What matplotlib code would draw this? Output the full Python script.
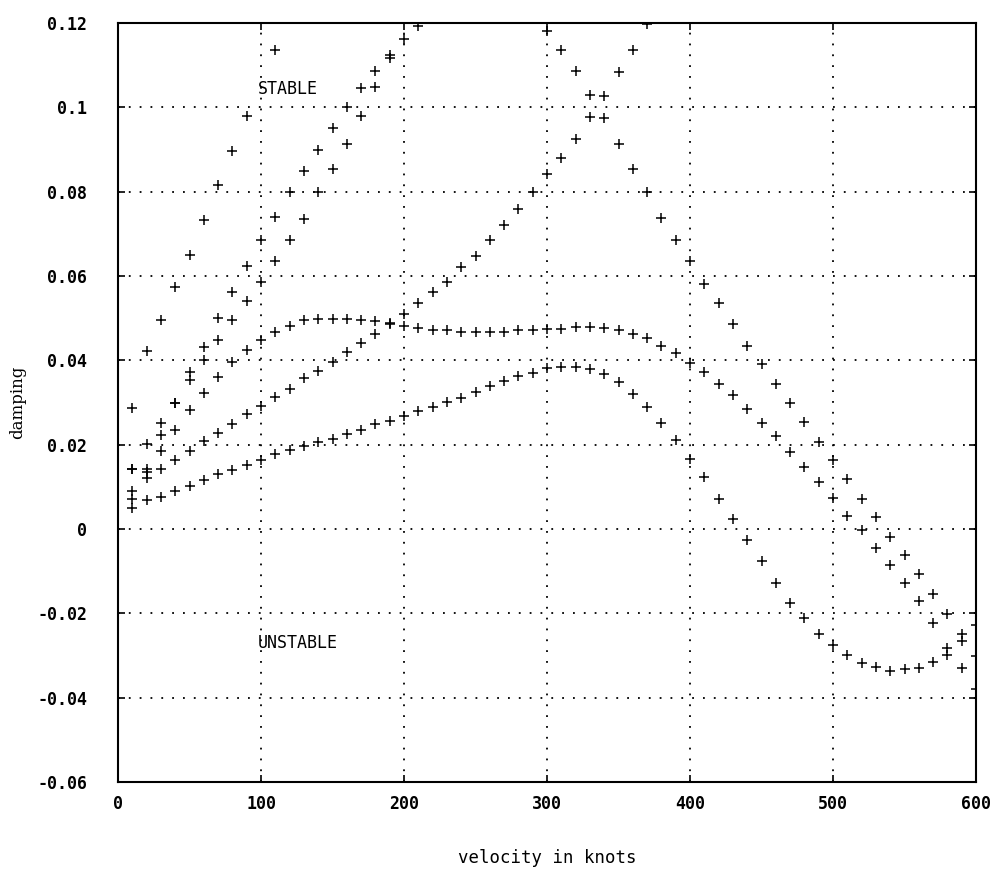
import matplotlib
matplotlib.use("Agg")
import matplotlib.pyplot as plt
import numpy as np

v_c1 = [10, 20, 30, 40, 50, 60, 70, 80, 90, 110]
g_c1 = [0.0288, 0.0422, 0.0496, 0.0573, 0.065, 0.0734, 0.0816, 0.0897, 0.0979, 0.1137]

v_c2 = [10, 20, 30, 40, 50, 60, 70, 80, 90, 100, 110, 120, 130, 140, 150,
        160, 170, 180, 190, 200, 210]
g_c2 = [0.0143, 0.0201, 0.0251, 0.0299, 0.0373, 0.0432, 0.050, 0.0563, 0.0623,
        0.0685, 0.074, 0.0799, 0.085, 0.090, 0.095, 0.100, 0.1046, 0.1087,
        0.1125, 0.1161, 0.1194]

v_c3 = [10, 20, 30, 40, 50, 60, 70, 80, 90, 100, 110, 120, 130, 140, 150,
        160, 170, 180, 190]
g_c3 = [0.0143, 0.0143, 0.0224, 0.0299, 0.0353, 0.0400, 0.0448, 0.0496, 0.054,
        0.0586, 0.0635, 0.0686, 0.0736, 0.0799, 0.0855, 0.0914, 0.098, 0.1049,
        0.1118]

# ramo que volta por cima perto de 300 knots
v_c7 = [300, 310, 320, 330, 340, 350, 360, 370]
g_c7 = [0.1182, 0.1137, 0.1086, 0.1030, 0.1028, 0.1083, 0.1137, 0.1198]

v_c4 = list(range(10, 610, 10))
g_c4 = [0.0091, 0.0135, 0.0186, 0.0234, 0.0282, 0.0323, 0.0361, 0.0397, 0.0425,
        0.0448, 0.0468, 0.0482, 0.0496, 0.0498, 0.0498, 0.0498, 0.0496, 0.0494,
        0.0488, 0.0482, 0.0476, 0.0471, 0.0471, 0.0467, 0.0467, 0.0467, 0.0468,
        0.0472, 0.0472, 0.0474, 0.0474, 0.0479, 0.0479, 0.0476, 0.0471, 0.0462,
        0.0452, 0.0434, 0.0417, 0.0394, 0.0373, 0.0345, 0.0317, 0.0284, 0.0251,
        0.0220, 0.0182, 0.0147, 0.0111, 0.0074, 0.0032, -0.0003, -0.0045,
        -0.0085, -0.0127, -0.0171, -0.0222, -0.0282, -0.0330, -0.0380]

v_c5 = list(range(10, 610, 10))
g_c5 = [0.0071, 0.0120, 0.0143, 0.0163, 0.0186, 0.0208, 0.0228, 0.025, 0.0272,
        0.0291, 0.0313, 0.0333, 0.0357, 0.0375, 0.0397, 0.042, 0.044, 0.0463,
        0.0486, 0.051, 0.0536, 0.0562, 0.0587, 0.0621, 0.0648, 0.0685, 0.0722,
        0.0758, 0.0799, 0.0841, 0.0881, 0.0926, 0.0976, 0.0974, 0.0913, 0.0855,
        0.0799, 0.0738, 0.0686, 0.0635, 0.0581, 0.0536, 0.0486, 0.0434, 0.0391,
        0.0345, 0.0298, 0.0254, 0.0206, 0.0164, 0.0119, 0.0071, 0.0028, -0.0018,
        -0.0062, -0.0107, -0.0153, -0.0202, -0.0250, -0.0302]

v_c6 = list(range(10, 610, 10))
g_c6 = [0.0051, 0.0069, 0.0075, 0.009, 0.0103, 0.0117, 0.0131, 0.0139, 0.0153,
        0.0163, 0.0177, 0.0187, 0.0198, 0.0206, 0.0214, 0.0226, 0.0234, 0.0248,
        0.0256, 0.0267, 0.028, 0.029, 0.0301, 0.0311, 0.0325, 0.0339, 0.0351,
        0.0363, 0.037, 0.0381, 0.0385, 0.0385, 0.0379, 0.0367, 0.0349, 0.032,
        0.029, 0.0251, 0.021, 0.0167, 0.0123, 0.0071, 0.0024, -0.0026, -0.0077,
        -0.0129, -0.0175, -0.0211, -0.0249, -0.0276, -0.0298, -0.0318, -0.0328,
        -0.0336, -0.0333, -0.033, -0.0315, -0.0298, -0.0265, -0.0228]

ramos = [(v_c1, g_c1), (v_c2, g_c2), (v_c3, g_c3), (v_c7, g_c7),
         (v_c4, g_c4), (v_c5, g_c5), (v_c6, g_c6)]

xticks = [0, 100, 200, 300, 400, 500, 600]
yticks = [-0.06, -0.04, -0.02, 0, 0.02, 0.04, 0.06, 0.08, 0.1, 0.12]
ytick_labels = ["-0.06", "-0.04", "-0.02", "0", "0.02", "0.04", "0.06",
                "0.08", "0.1", "0.12"]

fig = plt.figure(figsize=(10, 8.76), dpi=100)
ax = fig.add_axes([0.118, 0.1073, 0.858, 0.8664])

for v, g in ramos:
    ax.plot(v, g, linestyle="none", marker="+", color="black",
            markersize=7, markeredgewidth=1.1)

ax.set_xlim(0, 600)
ax.set_ylim(-0.06, 0.12)
ax.set_xticks(xticks)
ax.set_yticks(yticks)
ax.set_yticklabels(ytick_labels)
ax.grid(True, color="black", linestyle=(0, (1, 5)), linewidth=1.3)

mono = "DejaVu Sans Mono"
ax.tick_params(direction="in", length=5, width=1.2, top=True, right=True,
               labelsize=12)
ax.tick_params(axis="y", pad=22)
ax.tick_params(axis="x", pad=9)
for lab in ax.get_xticklabels() + ax.get_yticklabels():
    lab.set_family(mono)
    lab.set_fontweight("bold")
for s in ax.spines.values():
    s.set_linewidth(1.5)

ax.text(98, 0.1044, "STABLE", family=mono, fontsize=12, va="center")
ax.text(98, -0.027, "UNSTABLE", family=mono, fontsize=12, va="center")

ax.set_xlabel("velocity in knots", family=mono, fontsize=12.5, labelpad=26)
ax.set_ylabel("damping", family="DejaVu Serif", fontsize=12, labelpad=8)

fig.savefig("out.png", dpi=100)
